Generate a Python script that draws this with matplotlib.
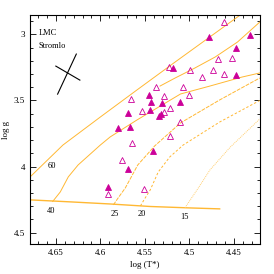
import matplotlib
matplotlib.use("Agg")
import matplotlib.pyplot as plt
from matplotlib.ticker import MultipleLocator

# ---- data ----
open_logT = [4.461, 4.468, 4.452, 4.523, 4.499, 4.474, 4.486, 4.461, 4.538, 4.507,
             4.529, 4.500, 4.522, 4.553, 4.529, 4.510, 4.566, 4.565, 4.522, 4.576,
             4.591, 4.551]
open_logg = [2.905, 3.189, 3.177, 3.247, 3.270, 3.270, 3.320, 3.300, 3.398, 3.398,
             3.469, 3.459, 3.559, 3.578, 3.589, 3.660, 3.489, 3.819, 3.769, 3.950,
             4.207, 4.169]
fill_logT = [4.478, 4.432, 4.448, 4.518, 4.448, 4.545, 4.543, 4.531, 4.510, 4.544,
             4.532, 4.534, 4.569, 4.580, 4.567, 4.541, 4.569, 4.591]
fill_logg = [3.018, 3.007, 3.106, 3.258, 3.308, 3.460, 3.508, 3.521, 3.508, 3.572,
             3.606, 3.621, 3.597, 3.708, 3.701, 3.884, 4.020, 4.152]

zams_T = [4.679, 4.634, 4.589, 4.544, 4.499, 4.466]
zams_g = [4.252, 4.267, 4.283, 4.302, 4.313, 4.320]

t60_T = [4.679, 4.642, 4.600, 4.559, 4.516, 4.471, 4.443]
t60_g = [4.079, 3.837, 3.625, 3.421, 3.209, 2.990, 2.854]
t40_T = [4.6535, 4.645, 4.636, 4.625, 4.600, 4.589, 4.559, 4.510, 4.477, 4.441, 4.421]
t40_g = [4.264, 4.192, 4.078, 3.988, 3.837, 3.776, 3.648, 3.451, 3.391, 3.323, 3.292]
tx_T = [4.533, 4.516, 4.494, 4.471, 4.446, 4.421]
tx_g = [3.391, 3.330, 3.255, 3.171, 3.058, 2.907]
t25_T = [4.5854, 4.580, 4.572, 4.558, 4.539, 4.510, 4.466, 4.421]
t25_g = [4.290, 4.237, 4.162, 3.988, 3.844, 3.670, 3.496, 3.330]
t20_T = [4.555, 4.551, 4.544, 4.535, 4.522, 4.507, 4.466, 4.421]
t20_g = [4.298, 4.252, 4.177, 4.041, 3.927, 3.837, 3.663, 3.500]
t15_T = [4.5049, 4.499, 4.490, 4.477, 4.454, 4.421]
t15_g = [4.311, 4.252, 4.162, 4.026, 3.852, 3.640]

mass_labels = ["60", "40", "25", "20", "15"]
label_T = [4.655, 4.655, 4.584, 4.553, 4.505]
label_g = [3.995, 4.337, 4.356, 4.356, 4.385]

err1_T = [4.648, 4.627]
err1_g = [3.452, 3.149]
err2_T = [4.650, 4.623]
err2_g = [3.240, 3.346]

# ---- figure ----
plt.rcParams['font.family'] = ['Liberation Serif', 'DejaVu Serif']
fig = plt.figure(figsize=(2.74, 2.74), dpi=100)
ax = fig.add_axes([0.1095, 0.1084, 0.8385, 0.8366])

orange = '#ffb833'
lw = 0.7
ax.plot(zams_T, zams_g, color=orange, lw=1.0)
ax.plot(t60_T, t60_g, color=orange, lw=lw)
ax.plot(t40_T, t40_g, color=orange, lw=lw)
ax.plot(tx_T, tx_g, color=orange, lw=lw)
ax.plot(t25_T, t25_g, color=orange, lw=lw, dashes=(4, 1.2))
ax.plot(t20_T, t20_g, color=orange, lw=lw, dashes=(2.5, 2))
ax.plot(t15_T, t15_g, color='#ffcf70', lw=lw, dashes=(1, 1))

mag = '#cc0099'
ax.plot(fill_logT, fill_logg, linestyle='none', marker='^', ms=5, color=mag,
        markeredgewidth=0.6)
ax.plot(open_logT, open_logg, linestyle='none', marker='^', ms=5, mfc='none',
        mec=mag, markeredgewidth=0.6)

ax.plot(err1_T, err1_g, color='black', lw=0.8)
ax.plot(err2_T, err2_g, color='black', lw=0.8)

for s, x, y in zip(mass_labels, label_T, label_g):
    ax.text(x, y, s, fontsize=6, ha='center', va='center')

ax.text(0.039, 0.921, 'LMC', transform=ax.transAxes, fontsize=6, va='center')
ax.text(0.039, 0.865, 'Stromlo', transform=ax.transAxes, fontsize=6, va='center')

ax.set_xlim(4.679, 4.421)
ax.set_ylim(4.588, 2.854)
ax.xaxis.set_major_locator(MultipleLocator(0.05))
ax.xaxis.set_minor_locator(MultipleLocator(0.01))
ax.yaxis.set_major_locator(MultipleLocator(0.5))
ax.yaxis.set_minor_locator(MultipleLocator(0.1))
ax.set_xticks([4.65, 4.6, 4.55, 4.5, 4.45])
ax.set_xticklabels(['4.65', '4.6', '4.55', '4.5', '4.45'])
ax.set_yticks([3, 3.5, 4, 4.5])
ax.set_yticklabels(['3', '3.5', '4', '4.5'])
ax.tick_params(which='both', direction='in', top=True, right=True, labelsize=6.5,
               width=0.6)
ax.tick_params(which='major', length=4)
ax.tick_params(which='minor', length=2)
for sp in ax.spines.values():
    sp.set_linewidth(0.8)
ax.set_xlabel('log (T*)', fontsize=6.5, labelpad=3)
ax.set_ylabel('log g', fontsize=6.5, labelpad=3)

fig.savefig('out.png', dpi=100)
